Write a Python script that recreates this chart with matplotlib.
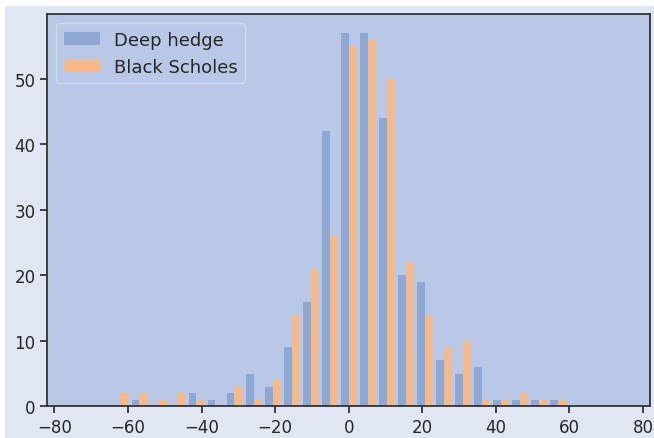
import matplotlib
matplotlib.use("Agg")
import matplotlib.pyplot as plt
import numpy as np
from matplotlib.patches import Rectangle

# Bin-Grenzen des Histogramms (29 Bins von -75 bis 75)
bin_edges = np.linspace(-75, 75, 30)

deep_hedge = [0, 0, 0, 1, 0, 0, 2, 1, 2, 5, 3, 9, 16, 42, 57,
              57, 44, 20, 19, 7, 5, 6, 1, 1, 1, 1, 0, 0, 0]
black_scholes = [0, 0, 2, 2, 1, 2, 1, 0, 3, 1, 4, 14, 21, 26, 55,
                 56, 50, 22, 14, 9, 10, 1, 1, 2, 1, 1, 0, 0, 0]
labels = ["Deep hedge", "Black Scholes"]

# Farben
fig_bg = "#e0e6f2"
ax_bg = "#b8c8e6"
farbe_blau = "#8ca8d3"
farbe_orange = "#fcb883"
text_farbe = "#262626"

plt.rcParams["font.family"] = "DejaVu Sans"

fig = plt.figure(figsize=(6.54, 4.39), dpi=100, facecolor="white")
# Hintergrund (oben und links ein schmaler weißer Rand)
fig.patches.append(Rectangle((5 / 654, 0), 1, 1 - 7 / 439, transform=fig.transFigure,
                             facecolor=fig_bg, edgecolor="none", zorder=-10))

ax = fig.add_axes([0.0723, 0.0722, 0.9216, 0.8928])
ax.set_facecolor(ax_bg)

mitten = (bin_edges[:-1] + bin_edges[1:]) / 2
ax.hist([mitten, mitten], bins=bin_edges, weights=[deep_hedge, black_scholes],
        color=[farbe_blau, farbe_orange], label=labels)

for spine in ax.spines.values():
    spine.set_color("#333333")
    spine.set_linewidth(1.3)

ax.tick_params(axis="both", labelsize=12, colors="#333333", labelcolor=text_farbe,
               length=5, width=1.3)

leg = ax.legend(loc="upper left", fontsize=13, facecolor=ax_bg, edgecolor="#d4dae6",
                framealpha=1)
for t in leg.get_texts():
    t.set_color(text_farbe)

fig.savefig("out.png", dpi=100, facecolor=fig.get_facecolor())
